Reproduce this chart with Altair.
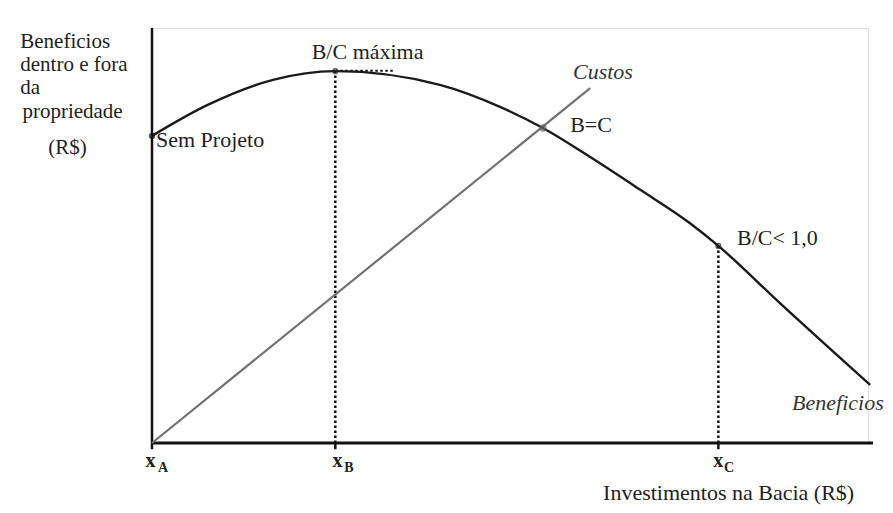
import altair as alt
import pandas as pd

# Benefit curve (conceptual units, 0-100)
ben_x = [0, 7.7, 16.9, 25.6, 40.2, 48.6, 54.6, 61.2, 68.2, 75.1, 79.1, 87.7, 100.3]
ben_y = [74.0, 81.4, 87.5, 89.6, 86.3, 81.0, 75.9, 68.9, 61.0, 53.0, 47.5, 33.7, 14.0]
# Cost line
cost_x = [0, 61.2]
cost_y = [0, 85.5]
# Key points
key_names = ["Sem Projeto", "B/C máxima", "B=C", "B/C< 1,0"]
key_x = [0, 25.6, 54.6, 79.1]
key_y = [74.0, 89.6, 75.9, 47.5]
# x positions of markers on the axis
tick_names = ["A", "B", "C"]
tick_x = [0, 25.6, 79.1]

FONT = "Liberation Serif"
xs = alt.Scale(domain=[0, 100], nice=False, zero=False)
ys = alt.Scale(domain=[0, 100], nice=False, zero=False)


def X(f="x"):
    return alt.X(f, type="quantitative", scale=xs, axis=None)


def Y(f="y"):
    return alt.Y(f, type="quantitative", scale=ys, axis=None)


# axes as rules
axes_v = alt.Chart(pd.DataFrame({"x": [0], "y": [0], "y2": [100]})).mark_rule(
    color="#111", strokeWidth=2.5).encode(x=X(), y=Y(), y2="y2")
axes_h = alt.Chart(pd.DataFrame({"x": [0], "x2": [100.7], "y": [0]})).mark_rule(
    color="#111", strokeWidth=3).encode(x=X(), x2="x2", y=Y())

# small ticks below axis
ticks = alt.Chart(pd.DataFrame({"x": tick_x, "y": [0] * 3, "y2": [-1.5] * 3})).mark_rule(
    color="#111", strokeWidth=2.5).encode(x=X(), y=Y(), y2="y2")

# dotted verticals at xB and xC
dots_v = alt.Chart(pd.DataFrame({"x": [key_x[1], key_x[3]], "y": [0, 0],
                                 "y2": [key_y[1], key_y[3]]})).mark_rule(
    color="#111", strokeWidth=2.5, strokeDash=[2.5, 2.5]).encode(x=X(), y=Y(), y2="y2")
dots_h = alt.Chart(pd.DataFrame({"x": [key_x[1]], "x2": [33.7], "y": [89.7]})).mark_rule(
    color="#111", strokeWidth=2, strokeDash=[2.5, 2.5]).encode(x=X(), x2="x2", y=Y())

cost = alt.Chart(pd.DataFrame({"x": cost_x, "y": cost_y})).mark_line(
    color="#727272", strokeWidth=2.2).encode(x=X(), y=Y())

ben = alt.Chart(pd.DataFrame({"x": ben_x, "y": ben_y})).mark_line(
    color="#1a1a1a", strokeWidth=2.4, interpolate="monotone").encode(x=X(), y=Y())

kp = pd.DataFrame({"name": key_names, "x": key_x, "y": key_y})
pt_sem = alt.Chart(kp.iloc[[0]]).mark_point(filled=True, color="#111", size=40).encode(x=X(), y=Y())
pt_open = alt.Chart(kp.iloc[[1, 3]]).mark_point(filled=False, color="#222", size=22,
                                                 strokeWidth=1.5).encode(x=X(), y=Y())
pt_bc = alt.Chart(kp.iloc[[2]]).mark_point(filled=True, color="#666", size=55).encode(x=X(), y=Y())

# annotation labels
lab_text = ["Sem Projeto", "B/C máxima", "B=C", "B/C< 1,0", "Investimentos na Bacia (R$)"]
lab_x = [0.56, 22.3, 58.4, 81.7, 63.0]
lab_y = [73.0, 94.2, 76.6, 49.4, -12.0]
labels = alt.Chart(pd.DataFrame({"t": lab_text, "x": lab_x, "y": lab_y})).mark_text(
    align="left", baseline="middle", font=FONT, fontSize=22, color="#222").encode(
    x=X(), y=Y(), text="t:N")

# y-axis title, line by line
yt_text = ["Beneficios", "dentro e fora", "da", "propriedade", "(R$)"]
yt_x = [-18.4, -18.4, -18.4, -18.1, -14.5]
yt_y = [96.6, 91.1, 85.5, 79.8, 71.1]
ytitle = alt.Chart(pd.DataFrame({"t": yt_text, "x": yt_x, "y": yt_y})).mark_text(
    align="left", baseline="middle", font=FONT, fontSize=21, color="#222").encode(
    x=X(), y=Y(), text="t:N")

it_text = ["Custos", "Beneficios"]
it_x = [58.8, 89.4]
it_y = [89.4, 9.6]
italics = alt.Chart(pd.DataFrame({"t": it_text, "x": it_x, "y": it_y})).mark_text(
    align="left", baseline="middle", font=FONT, fontSize=22, fontStyle="italic",
    color="#333").encode(x=X(), y=Y(), text="t:N")

# x_A, x_B, x_C labels
xl = alt.Chart(pd.DataFrame({"t": ["x"] * 3, "x": [-0.2, 25.9, 79.1], "y": [-4.3] * 3})).mark_text(
    align="center", baseline="middle", font=FONT, fontSize=20, fontWeight="bold",
    color="#222").encode(x=X(), y=Y(), text="t:N")
xsub = alt.Chart(pd.DataFrame({"t": tick_names, "x": [1.55, 27.5, 80.6], "y": [-6.0] * 3})).mark_text(
    align="center", baseline="middle", font=FONT, fontSize=14, fontWeight="bold",
    color="#222").encode(x=X(), y=Y(), text="t:N")

chart = alt.layer(
    axes_v, axes_h, ticks, dots_v, dots_h, cost, ben, pt_sem, pt_open, pt_bc,
    labels, ytitle, italics, xl, xsub
).properties(
    width=716, height=415,
    autosize=alt.AutoSizeParams(type="none"),
    padding={"left": 144, "top": 20, "right": 17, "bottom": 62},
).configure_view(stroke=None).configure(background="white")

chart.save("out.html", embed_options={"renderer": "svg", "actions": False})
